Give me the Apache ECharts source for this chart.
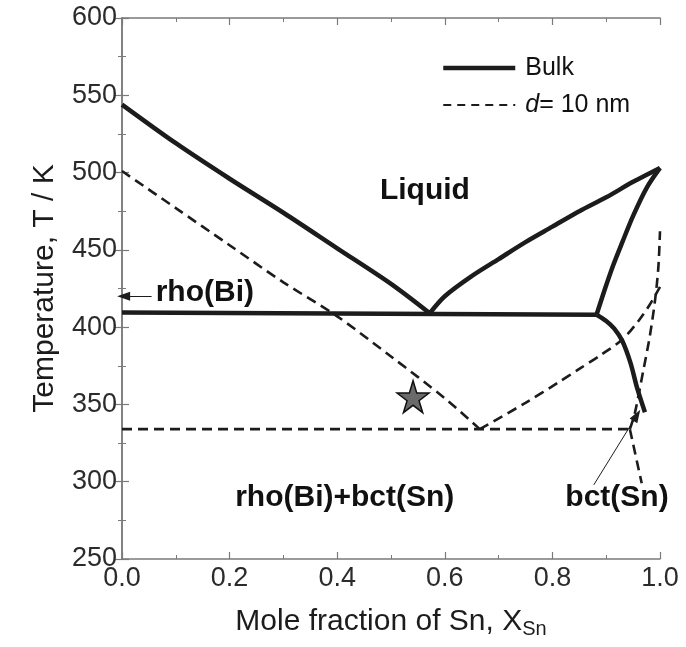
<!DOCTYPE html>
<html>
<head>
<meta charset="utf-8">
<script src="https://cdn.jsdelivr.net/npm/echarts@6/dist/echarts.min.js"></script>
<style>
  html, body { margin: 0; padding: 0; background: #fff; }
  #chart { width: 686px; height: 647px; }
</style>
</head>
<body>
<div id="chart"></div>
<script>
// axis ticks
var xTicks = [0, 0.2, 0.4, 0.6, 0.8, 1.0];
var yTicks = [250, 300, 350, 400, 450, 500, 550, 600];

// bulk phase boundaries [X_Sn, T]
var bulkLiqBi = [[0, 544], [0.1, 519], [0.2, 496], [0.3, 474], [0.4, 451], [0.5, 428], [0.572, 409]];
var bulkLiqSn = [[0.572, 409], [0.6, 420], [0.65, 433], [0.7, 444], [0.75, 455], [0.8, 465], [0.85, 475], [0.9, 484], [0.95, 494], [1.0, 503]];
var bulkEutectic = [[0, 409.5], [0.882, 408]];
var bulkSolidusSn = [[0.882, 408], [0.897, 424], [0.913, 440], [0.93, 455], [0.95, 472], [0.975, 490], [1.0, 503]];
var bulkSolvusSn = [[0.882, 408], [0.9, 404], [0.915, 399], [0.93, 391], [0.945, 377], [0.958, 360], [0.972, 345]];

// d = 10 nm boundaries
var nanoLiqBi = [[0, 501], [0.1, 477], [0.2, 453], [0.3, 429], [0.4, 407], [0.5, 381], [0.6, 354], [0.665, 334]];
var nanoLiqSn = [[0.665, 334], [0.75, 351], [0.81, 364], [0.85, 373], [0.89, 382], [0.93, 392], [0.96, 404], [0.98, 414], [1.0, 426]];
var nanoEutectic = [[0, 334], [0.944, 334]];
var nanoSolidusSn = [[0.944, 334], [0.953, 344], [0.969, 372], [0.981, 394], [0.991, 418], [0.997, 439], [1.0, 462]];
var nanoSolvusSn = [[0.944, 334], [0.966, 299]];

// annotations
var starPoint = [[0.541, 355]];
var rhoArrow = [[0.055, 420], [0.003, 420]];
var bctArrow = [[0.877, 298], [0.957, 343]];
var phaseLabels = [[0.563, 488, 'Liquid'], [0.154, 422, 'rho(Bi)'], [0.414, 289.5, 'rho(Bi)+bct(Sn)'], [0.92, 289.5, 'bct(Sn)']];

var FONT = "'Liberation Sans', Arial, sans-serif";
var INK = '#1c1c1c';
var AXIS = '#7a7a7a';

function bulk(data, smooth) {
	return {
		name: 'Bulk', type: 'line', data: data, symbol: 'none', smooth: smooth ? 0.3 : false,
		lineStyle: { color: INK, width: 4.5 }, itemStyle: { color: INK }, z: 3
	};
}

function nano(data, smooth) {
	return {
		name: 'd = 10 nm', type: 'line', data: data, symbol: 'none', smooth: smooth ? 0.3 : false,
		lineStyle: { color: INK, width: 2.6, type: [10, 6] }, itemStyle: { color: INK }, z: 2
	};
}

function arrow(pts) {
	return {
		type: 'line', data: [], silent: true,
		markLine: {
			silent: true, symbol: ['none', 'triangle'], symbolSize: [9, 13],
			label: { show: false },
			lineStyle: { color: INK, width: 1, type: 'solid' },
			itemStyle: { color: INK },
			data: [[{ coord: pts[0] }, { coord: pts[1] }]]
		}
	};
}

var axisCommon = {
	type: 'value',
	axisLine: { show: true, lineStyle: { color: AXIS, width: 1.5 } },
	axisTick: { show: true, inside: true, length: 7, lineStyle: { color: AXIS, width: 1.2 } },
	minorTick: { show: true, splitNumber: 2, length: 4, lineStyle: { color: AXIS, width: 1 } },
	splitLine: { show: false }
};

var option = {
	backgroundColor: '#fff',
	animation: false,
	textStyle: { fontFamily: FONT },
	grid: { left: 122, right: 26, top: 18, bottom: 88 },
	legend: {
		orient: 'vertical', left: 436, top: 48, itemWidth: 72, itemHeight: 14, itemGap: 7,
		itemStyle: { opacity: 0 },
		data: [
			{ name: 'Bulk', lineStyle: { width: 4.5, color: INK } },
			{ name: 'd = 10 nm', lineStyle: { width: 2.2, color: INK, type: [8, 6] } }
		],
		textStyle: {
			fontFamily: FONT, fontSize: 25, color: '#111', lineHeight: 30, padding: [0, 0, 0, 5],
			rich: { i: { fontStyle: 'italic', fontSize: 25, fontFamily: FONT, color: '#111' } }
		},
		formatter: function (name) {
			return name === 'Bulk' ? 'Bulk' : '{i|d}= 10 nm';
		}
	},
	xAxis: [
		Object.assign({}, axisCommon, {
			min: xTicks[0], max: xTicks[xTicks.length - 1], interval: 0.2,
			axisLabel: { color: '#2b2b2b', fontSize: 27, margin: 6, formatter: function (v) { return v.toFixed(1); } },
			name: '{a|Mole fraction of Sn, X}{s|Sn}',
			nameLocation: 'middle', nameGap: 46,
			nameTextStyle: {
				rich: {
					a: { fontSize: 30, color: INK, fontFamily: FONT },
					s: { fontSize: 20, color: INK, fontFamily: FONT, verticalAlign: 'bottom', padding: [14, 0, 0, 0] }
				}
			}
		}),
		Object.assign({}, axisCommon, {
			position: 'top', min: 0, max: 1, interval: 0.2, axisLabel: { show: false }
		})
	],
	yAxis: [
		Object.assign({}, axisCommon, {
			min: yTicks[0], max: yTicks[yTicks.length - 1], interval: 50,
			axisLabel: { color: '#2b2b2b', fontSize: 27, margin: 5 },
			name: 'Temperature, T / K',
			nameLocation: 'middle', nameGap: 62,
			nameTextStyle: { fontSize: 30, color: INK, fontFamily: FONT }
		}),
		Object.assign({}, axisCommon, {
			position: 'right', min: 250, max: 600, interval: 50, axisLabel: { show: false }
		})
	],
	series: [
		bulk(bulkLiqBi, true),
		bulk(bulkLiqSn, true),
		bulk(bulkEutectic, false),
		bulk(bulkSolidusSn, true),
		bulk(bulkSolvusSn, true),
		nano(nanoLiqBi, true),
		nano(nanoLiqSn, true),
		nano(nanoEutectic, false),
		nano(nanoSolidusSn, true),
		nano(nanoSolvusSn, false),
		arrow(rhoArrow),
		arrow(bctArrow),
		{
			type: 'scatter', data: starPoint, silent: true, z: 5,
			symbol: 'path://M50,0 L61,35 L98,35 L68,57 L79,91 L50,70 L21,91 L32,57 L2,35 L39,35 Z',
			symbolSize: 32,
			itemStyle: { color: '#6a6a6a', borderColor: '#111', borderWidth: 1.5, opacity: 1 }
		},
		{
			type: 'scatter', data: phaseLabels, silent: true, symbolSize: 0, z: 6,
			itemStyle: { opacity: 1 },
			label: {
				show: true, position: 'inside', fontFamily: FONT, fontWeight: 'bold', fontSize: 30, color: '#111',
				opacity: 1,
				formatter: function (p) { return p.value[2]; }
			}
		}
	]
};

var chart = echarts.init(document.getElementById('chart'), null, { renderer: 'canvas' });
chart.setOption(option);
</script>
</body>
</html>
